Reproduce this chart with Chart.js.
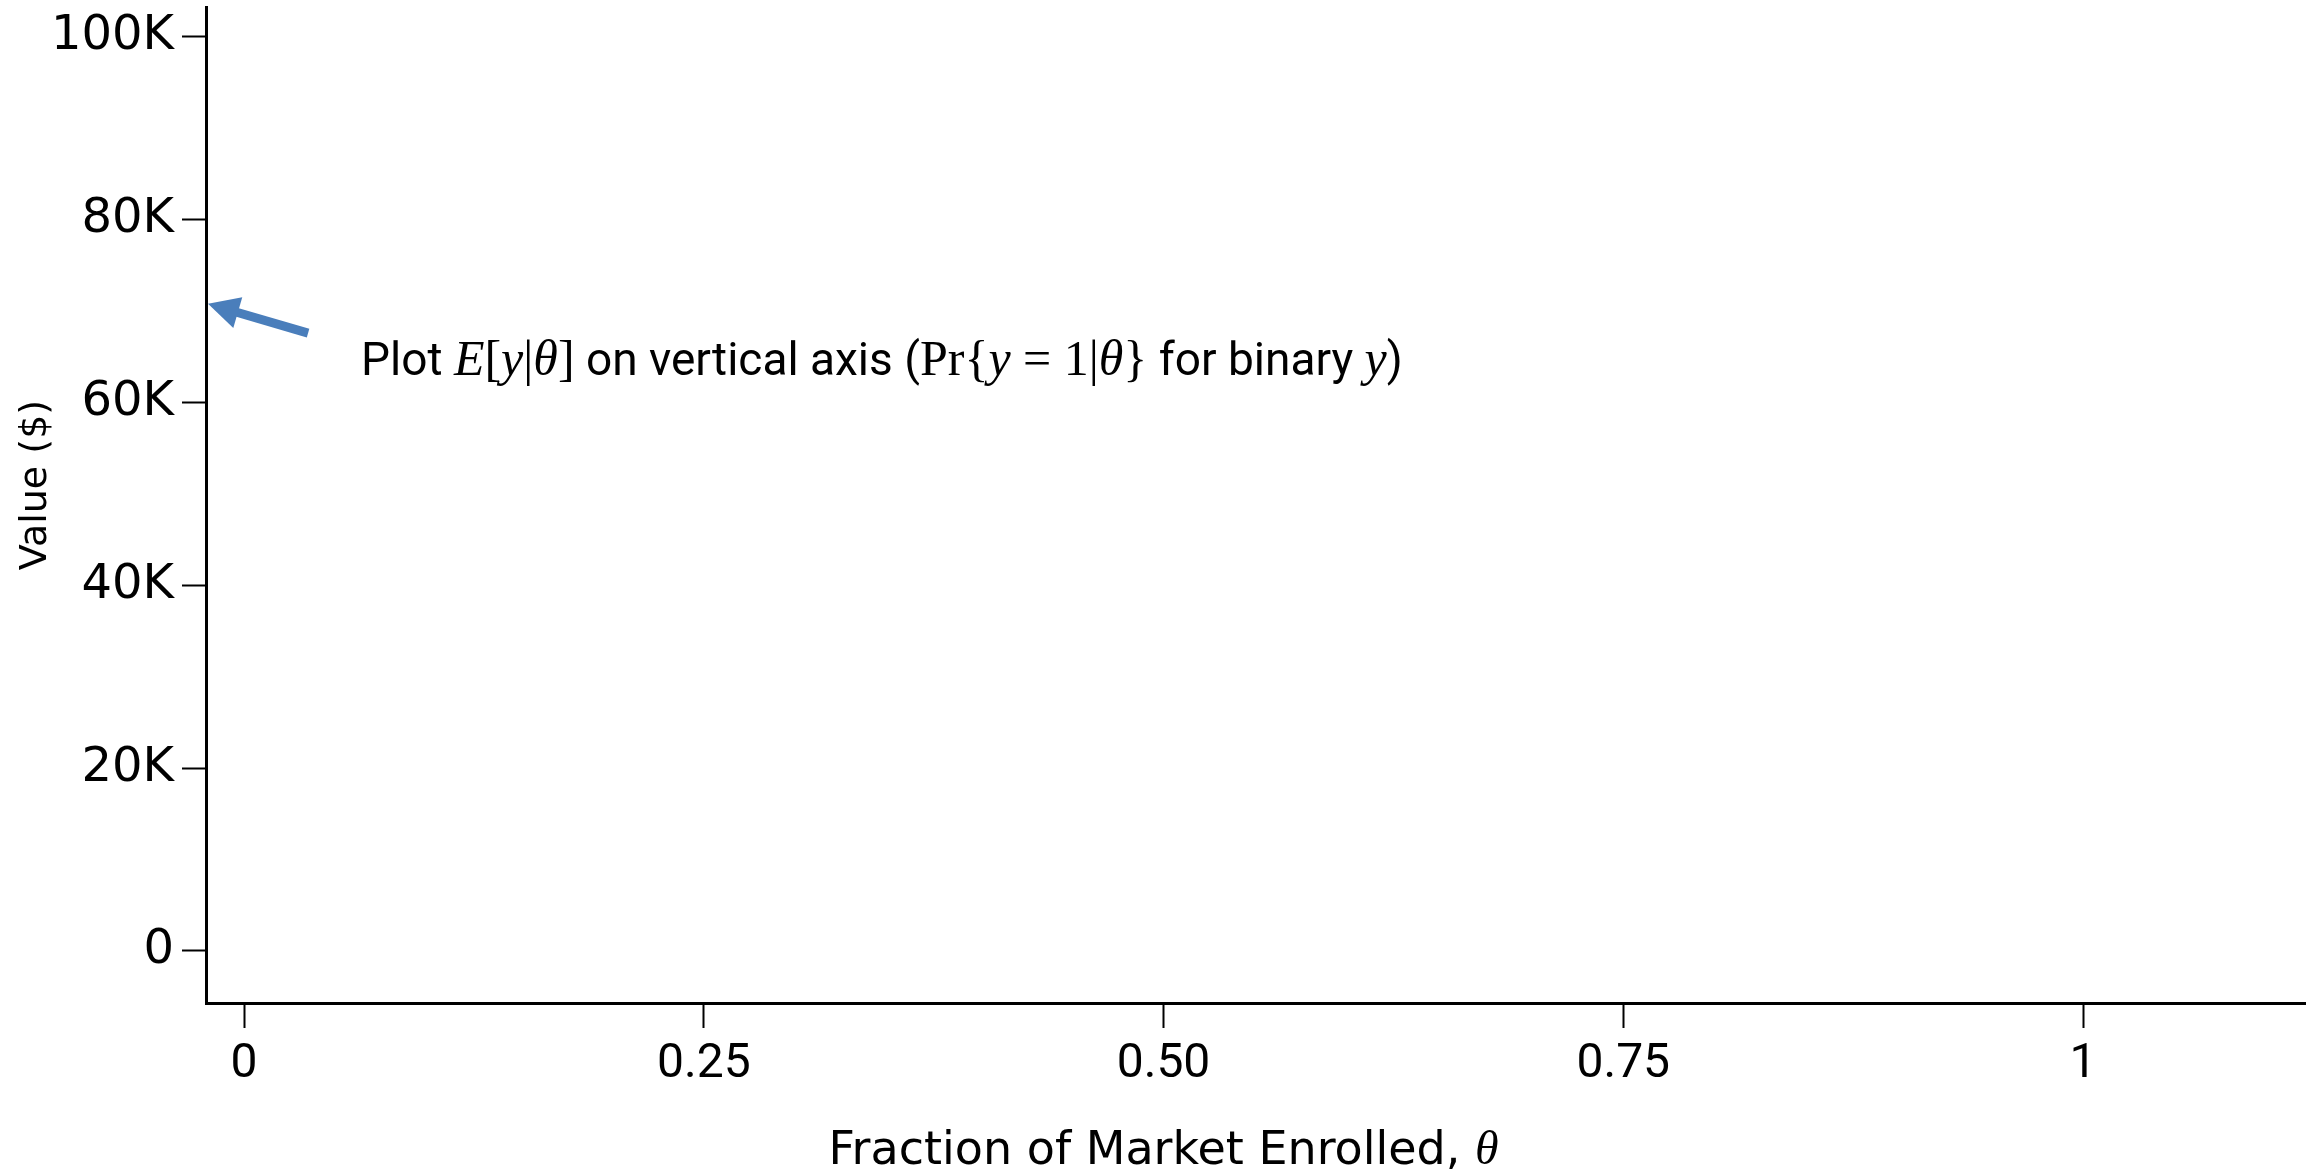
<!DOCTYPE html>
<html>
<head>
<meta charset="utf-8">
<script src="https://cdn.jsdelivr.net/npm/chart.js@4.4.0/dist/chart.umd.min.js"></script>
<style>
  html, body { margin: 0; padding: 0; background: #fff; }
</style>
</head>
<body>
<canvas id="chart" width="2320" height="1175"></canvas>
<script>
// ticks of both axes
const xTicks = [0, 0.25, 0.5, 0.75, 1];
const xTickLabels = ['0', '0.25', '0.50', '0.75', '1'];
const yTicks = [0, 20000, 40000, 60000, 80000, 100000];
const yTickLabels = ['0', '20K', '40K', '60K', '80K', '100K'];

// visible range of each axis
const xRange = [-0.0207, 1.1207];
const yRange = [-5690, 103280];

// the chart has no series yet, only a note with an arrow at the vertical axis
const seriesValues = [];
const arrowFrom = [0.0348, 67600];
const arrowTo = [-0.0196, 70800];
const noteAt = [0.0636, 63000];
const noteParts = [
  ['Plot ', 'r'], ['E', 'i'], ['[', 's'], ['y', 'i'], ['|', 's'], ['\u03B8', 'i'], [']', 's'],
  [' on vertical axis (', 'r'], ['Pr', 's'], ['{', 's'], ['y', 'i'], [' = 1|', 's'], ['\u03B8', 'i'], ['}', 's'],
  [' for binary ', 'r'], ['y', 'i'], [')', 'r']
];
const xTitle = 'Fraction of Market Enrolled, ';
const xTitleSymbol = '\u03B8';
const yTitle = 'Value ($)';

const noteFonts = {
  r: '46px "Liberation Sans Narrow", Roboto, sans-serif',
  i: 'italic 50px "Liberation Serif", serif',
  s: '50px "Liberation Serif", serif'
};

// draws the arrow, the note and the axis titles
const annotate = {
  id: 'annotate',
  afterDraw(chart) {
    const { ctx, scales: { x, y } } = chart;
    ctx.save();

    const x0 = x.getPixelForValue(arrowFrom[0]), y0 = y.getPixelForValue(arrowFrom[1]);
    const x1 = x.getPixelForValue(arrowTo[0]), y1 = y.getPixelForValue(arrowTo[1]);
    const ang = Math.atan2(y1 - y0, x1 - x0);
    const head = 31, hw = 16;
    const bx = x1 - head * Math.cos(ang), by = y1 - head * Math.sin(ang);
    ctx.strokeStyle = '#4a7ebb';
    ctx.fillStyle = '#4a7ebb';
    ctx.lineWidth = 9;
    ctx.beginPath();
    ctx.moveTo(x0, y0);
    ctx.lineTo(bx + 2 * Math.cos(ang), by + 2 * Math.sin(ang));
    ctx.stroke();
    ctx.beginPath();
    ctx.moveTo(x1, y1);
    ctx.lineTo(bx + hw * Math.sin(ang), by - hw * Math.cos(ang));
    ctx.lineTo(bx - hw * Math.sin(ang), by + hw * Math.cos(ang));
    ctx.closePath();
    ctx.fill();

    ctx.fillStyle = '#000';
    ctx.textBaseline = 'alphabetic';
    ctx.textAlign = 'left';
    let tx = x.getPixelForValue(noteAt[0]);
    const ty = y.getPixelForValue(noteAt[1]);
    noteParts.forEach(([t, f]) => {
      ctx.font = noteFonts[f];
      ctx.fillText(t, tx, ty);
      tx += ctx.measureText(t).width;
    });

    // x title, centred under the middle tick
    ctx.font = '46px "DejaVu Sans"';
    const w1 = ctx.measureText(xTitle).width;
    ctx.font = 'italic 48px "Liberation Serif", serif';
    const w2 = ctx.measureText(xTitleSymbol).width;
    const sx = x.getPixelForValue(0.5) - (w1 + w2) / 2;
    ctx.font = '46px "DejaVu Sans"';
    ctx.fillText(xTitle, sx, 1164);
    ctx.font = 'italic 48px "Liberation Serif", serif';
    ctx.fillText(xTitleSymbol, sx + w1, 1164);

    // y title
    ctx.translate(46, 485);
    ctx.rotate(-Math.PI / 2);
    ctx.font = '38px "DejaVu Sans"';
    ctx.textAlign = 'center';
    ctx.fillText(yTitle, 0, 0);

    ctx.restore();
  }
};

new Chart(document.getElementById('chart'), {
  type: 'scatter',
  data: { datasets: [{ data: seriesValues }] },
  options: {
    responsive: false,
    animation: false,
    layout: { padding: { top: 7, right: 15, left: 0, bottom: 0 } },
    plugins: { legend: { display: false }, tooltip: { enabled: false } },
    scales: {
      x: {
        min: xRange[0],
        max: xRange[1],
        afterBuildTicks: s => { s.ticks = xTicks.map(v => ({ value: v })); },
        afterFit: s => { s.height = 172; s.paddingLeft = 0; s.paddingRight = 0; },
        ticks: {
          callback: v => xTickLabels[xTicks.indexOf(v)],
          color: '#000',
          font: { family: 'Roboto', size: 48 },
          padding: 8,
          maxRotation: 0,
          autoSkip: false
        },
        grid: { drawOnChartArea: false, drawTicks: true, tickLength: 25, tickWidth: 2, tickColor: '#000' },
        border: { display: true, color: '#000', width: 3 }
      },
      y: {
        min: yRange[0],
        max: yRange[1],
        afterBuildTicks: s => { s.ticks = yTicks.map(v => ({ value: v })); },
        afterFit: s => { s.width = 206; s.paddingTop = 0; s.paddingBottom = 0; },
        ticks: {
          callback: v => yTickLabels[yTicks.indexOf(v)],
          color: '#000',
          font: { family: 'DejaVu Sans', size: 48 },
          padding: 8
        },
        grid: { drawOnChartArea: false, drawTicks: true, tickLength: 24, tickWidth: 2, tickColor: '#000' },
        border: { display: true, color: '#000', width: 3 }
      }
    }
  },
  plugins: [annotate]
});
</script>
</body>
</html>
